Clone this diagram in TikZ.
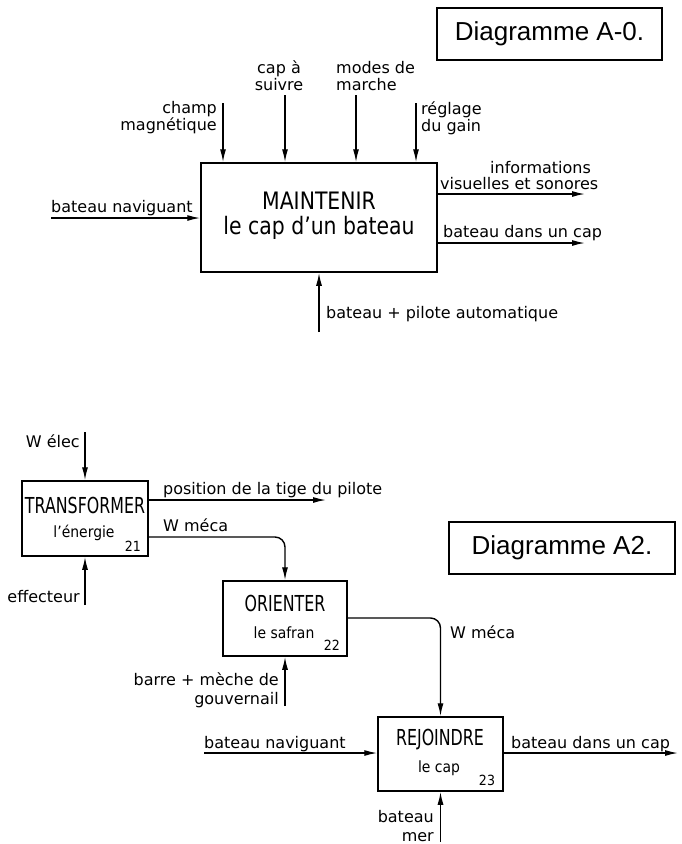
\documentclass[tikz,border=0pt]{standalone}
\usepackage{fontspec}
\setmainfont{DejaVu Sans}
\newfontfamily\narrowfont[FakeStretch=0.85]{DejaVu Sans}
\newfontfamily\narrowerfont[FakeStretch=0.72]{DejaVu Sans}
\newfontfamily\subfont[FakeStretch=0.9]{DejaVu Sans}
\newfontfamily\titlefont{Liberation Sans}
\usetikzlibrary{arrows.meta}
\begin{document}
\begin{tikzpicture}[x=1pt,y=-1pt,
  box/.style={draw, line width=1.5pt, inner sep=0pt},
  titlebox/.style={draw, line width=1.3pt, inner sep=0pt, font=\fontsize{26}{28}\selectfont\titlefont},
  arr/.style={line width=1.4pt, -{Latex[length=13pt,width=6pt]}},
  lbl/.style={inner sep=0pt, font=\fontsize{16}{17}\selectfont},
  lblb/.style={inner sep=0pt, font=\fontsize{16}{19}\selectfont},
  big/.style={inner sep=0pt, font=\fontsize{24}{25}\selectfont\narrowfont},
  capt/.style={inner sep=0pt, font=\fontsize{22}{24}\selectfont\narrowerfont},
  sub/.style={inner sep=0pt, font=\fontsize{15.5}{16}\selectfont\subfont},
  num/.style={inner sep=0pt, font=\fontsize{14}{15}\selectfont\subfont},
]
\useasboundingbox (0,0) rectangle (682,844);
\fill[white] (0,0) rectangle (682,844);

% ---------- Diagramme A-0 ----------
\node[titlebox, minimum width=225pt, minimum height=52pt] (tA0) at (549.5,34) {Diagramme A-0.};
\node[box, minimum width=236pt, minimum height=109pt] (M) at (319,217.5) {};
\node[big, align=center] (Mt) at (319,216) {MAINTENIR\\le cap d’un bateau};

\coordinate (c1) at (223,103);
\coordinate (c2) at (285,95);
\coordinate (c3) at (356,95);
\coordinate (c4) at (416,103);
\draw[arr] (c1) -- (c1 |- M.north);
\draw[arr] (c2) -- (c2 |- M.north);
\draw[arr] (c3) -- (c3 |- M.north);
\draw[arr] (c4) -- (c4 |- M.north);
\node[lbl, align=right, anchor=east] (l1) at (217,118) {champ\\magnétique};
\node[lbl, align=center] (l2) at (279,76) {cap à\\suivre};
\node[lbl, align=left, anchor=west] (l3) at (336,76) {modes de\\marche};
\node[lbl, align=left, anchor=west] (l4) at (421,118) {réglage\\du gain};

\coordinate (bn) at (51,218);
\draw[arr] (bn) -- (M.west |- bn);
\node[lbl, anchor=base west] (l5) at (51,212) {bateau naviguant};

\coordinate (o1) at (585,194);
\draw[arr] (M.east |- o1) -- (o1);
\node[lbl, anchor=base west] (l6a) at (490,173) {informations};
\node[lbl, anchor=base west] (l6b) at (440,189) {visuelles et sonores};
\coordinate (o2) at (585,243);
\draw[arr] (M.east |- o2) -- (o2);
\node[lbl, anchor=base west] (l7) at (443,237) {bateau dans un cap};

\coordinate (bp) at (319,332);
\draw[arr] (bp) -- (bp |- M.south);
\node[lbl, anchor=base west] (l8) at (326,318) {bateau + pilote automatique};

% ---------- Diagramme A2 ----------
\node[titlebox, minimum width=226pt, minimum height=52pt] (tA2) at (562,548) {Diagramme A2.};

\node[box, minimum width=126pt, minimum height=75pt] (T) at (85,518.5) {};
\node[capt] (Tt) at (85,505) {TRANSFORMER};
\node[sub] (Ts) at (84,533) {l’énergie};
\node[num] (Tn) at (133,546) {21};

\node[box, minimum width=124pt, minimum height=75pt] (O) at (285,618.5) {};
\node[capt] (Ot) at (285,603) {ORIENTER};
\node[sub] (Os) at (284,633) {le safran};
\node[num] (On) at (332,645) {22};

\node[box, minimum width=125pt, minimum height=74pt] (R) at (440.5,754) {};
\node[capt] (Rt) at (440,740) {REJOINDRE};
\node[sub] (Rs) at (439,768) {le cap};
\node[num] (Rn) at (487,780) {23};

\coordinate (we) at (85,432);
\draw[arr] (we) -- (T.north);
\node[lbl, anchor=base east] (m1) at (80,447) {W élec};
\coordinate (ef) at (85,605);
\draw[arr] (ef) -- (T.south);
\node[lbl, anchor=base east] (m2) at (80,602) {effecteur};

\coordinate (pt) at (326,500);
\draw[arr] (T.east |- pt) -- (pt);
\node[lbl, anchor=base west] (m3) at (163,494) {position de la tige du pilote};

\coordinate (y537) at (0,537);
\draw[arr, rounded corners=10pt] (T.east |- y537) -| (O.north);
\node[lbl, anchor=base west] (m4) at (163,531) {W méca};

\coordinate (bm) at (285,706);
\draw[arr] (bm) -- (O.south);
\node[lblb, align=right, anchor=east] (m5) at (279,690) {barre + mèche de\\gouvernail};

\coordinate (y618) at (0,618);
\draw[arr, rounded corners=10pt] (O.east |- y618) -| (R.north);
\node[lbl, anchor=base west] (m6) at (450,638) {W méca};

\coordinate (bn2) at (204,753);
\draw[arr] (bn2) -- (R.west |- bn2);
\node[lbl, anchor=base west] (m7) at (204,748) {bateau naviguant};

\coordinate (bd2) at (678,753);
\draw[arr] (R.east |- bd2) -- (bd2);
\node[lbl, anchor=base west] (m8) at (511,748) {bateau dans un cap};

\coordinate (bme) at (440.5,842);
\draw[arr] (bme) -- (R.south);
\node[lblb, align=right, anchor=east] (m9) at (434,826) {bateau\\mer};
\end{tikzpicture}
\end{document}
